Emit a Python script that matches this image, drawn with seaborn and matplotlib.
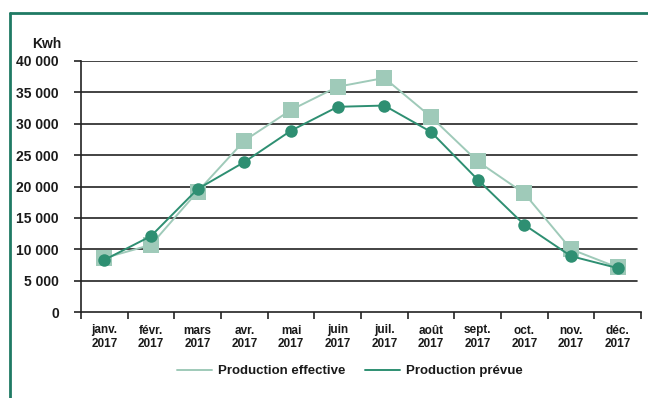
import matplotlib
matplotlib.use("Agg")
import matplotlib.pyplot as plt
import matplotlib.lines as mlines
import seaborn as sns
import pandas as pd
import numpy as np

months = ["janv.\n2017", "févr.\n2017", "mars\n2017", "avr.\n2017", "mai\n2017", "juin\n2017",
          "juil.\n2017", "août\n2017", "sept.\n2017", "oct.\n2017", "nov.\n2017", "déc.\n2017"]
effective = [8600, 10700, 19200, 27300, 32200, 35900, 37300, 31100, 24000, 18900, 10000, 7100]
prevue = [8300, 12100, 19600, 23900, 28900, 32700, 32900, 28700, 21100, 13900, 8900, 7000]
y_ticks = [0, 5000, 10000, 15000, 20000, 25000, 30000, 35000, 40000]
y_tick_labels = ["0", "5 000", "10 000", "15 000", "20 000", "25 000", "30 000", "35 000", "40 000"]

sns.set_theme(style="white")
plt.rcParams['font.family'] = ['Liberation Sans', 'DejaVu Sans']
plt.rcParams['font.weight'] = 'bold'
plt.rcParams['text.color'] = '#1a1a1a'
plt.rcParams['xtick.color'] = '#1a1a1a'
plt.rcParams['ytick.color'] = '#1a1a1a'

light = "#9fcab9"
dark = "#2e8f72"
frame = "#1f7a64"

df = pd.DataFrame({"x": np.arange(12), "eff": effective, "prev": prevue})

fig = plt.figure(figsize=(6.48, 3.98), dpi=100)
ax = fig.add_axes([81/648, 1-312/398, (641-81)/648, (312-61)/398])

for y in y_ticks[1:]:
    ax.axhline(y, color="#222222", lw=1.2, zorder=1, xmax=(637-81)/560)

sns.lineplot(data=df, x="x", y="eff", ax=ax, color=light, lw=1.4, marker="s",
             markersize=11, markeredgewidth=0, zorder=3)
sns.lineplot(data=df, x="x", y="prev", ax=ax, color=dark, lw=1.4, marker="o",
             markersize=9, markeredgewidth=0, zorder=4)

ax.set_xlim(-0.5, 11.5)
ax.set_ylim(0, 40000)
ax.set_xlabel("")
ax.set_ylabel("")
for s in ["top", "right"]:
    ax.spines[s].set_visible(False)
for s in ["left", "bottom"]:
    ax.spines[s].set_color("#222222")
    ax.spines[s].set_linewidth(1.2)

ax.set_yticks(y_ticks)
ax.set_yticklabels(y_tick_labels, fontsize=10, fontweight="bold")
ax.tick_params(axis="y", length=5, width=1.2, color="#222222", pad=11, direction="out", left=True)

ax.set_xticks(np.arange(-0.5, 12, 1))
ax.set_xticklabels([])
ax.tick_params(axis="x", which="major", length=5, width=1.2, color="#222222", direction="out", bottom=True)
ax.set_xticks(np.arange(12), minor=True)
ax.set_xticklabels(months, minor=True, fontsize=8.5, fontweight="bold", linespacing=1.2)
ax.tick_params(axis="x", which="minor", length=0, pad=9)

fig.text(47/648, 1-44/398, "Kwh", ha="center", va="center", fontsize=10, fontweight="bold")

h1 = mlines.Line2D([], [], color=light, lw=1.4)
h2 = mlines.Line2D([], [], color=dark, lw=1.4)
fig.legend([h1, h2], ["Production effective", "Production prévue"], loc="center",
           bbox_to_anchor=(350/648, 1-371/398), ncol=2, frameon=False,
           handlelength=2.65, columnspacing=1.5, handletextpad=0.45,
           prop={"weight": "bold", "size": 9.5})

fig.add_artist(mlines.Line2D([10/648, 1], [1-13/398, 1-13/398], color=frame, lw=2, transform=fig.transFigure))
fig.add_artist(mlines.Line2D([10/648, 10/648], [0, 1-13/398], color=frame, lw=2, transform=fig.transFigure))

fig.savefig("out.png", dpi=100, facecolor="white")
